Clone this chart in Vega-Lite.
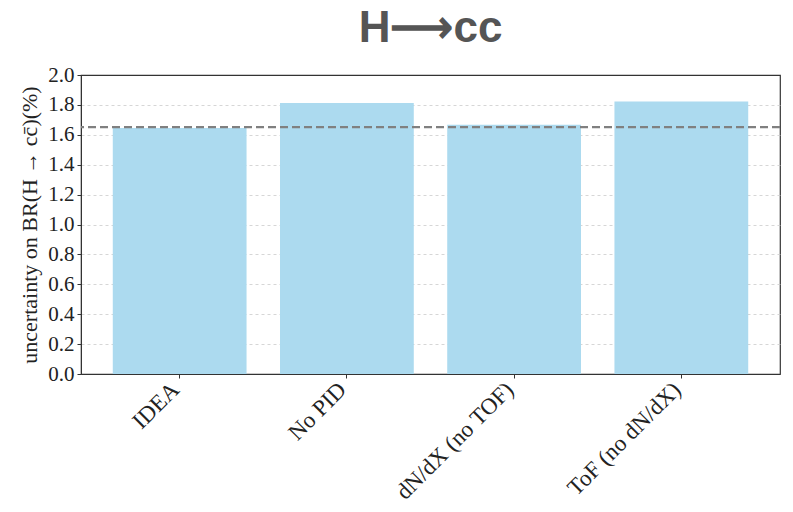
{
  "$schema": "https://vega.github.io/schema/vega-lite/v6.json",
  "width": 699,
  "height": 299,
  "autosize": "none",
  "padding": {"left": 81, "top": 75, "right": 13, "bottom": 138},
  "background": "white",
  "title": {
    "text": "H⟶cc",
    "font": "Liberation Sans",
    "fontSize": 44,
    "fontWeight": "bold",
    "color": "#555555",
    "anchor": "middle",
    "offset": 13
  },
  "config": {
    "view": {"stroke": "#333333", "strokeWidth": 1.2},
    "axis": {
      "labelFont": "Liberation Serif",
      "titleFont": "Liberation Serif",
      "labelFontSize": 21,
      "titleFontSize": 22,
      "labelColor": "#222222",
      "titleColor": "#222222",
      "titleFontWeight": "normal",
      "domainColor": "#333333",
      "tickColor": "#333333",
      "tickSize": 4,
      "labelOverlap": false
    }
  },
  "datasets": {
    "scenarios": [
      {"config": "IDEA", "uncertainty": 1.645},
      {"config": "No PID", "uncertainty": 1.813},
      {"config": "dN/dX (no TOF)", "uncertainty": 1.667},
      {"config": "ToF (no dN/dX)", "uncertainty": 1.823}
    ],
    "baseline": [{"level": 1.652}]
  },
  "layer": [
    {
      "data": {"name": "scenarios"},
      "mark": {"type": "bar", "color": "#acdaef"},
      "encoding": {
        "x": {
          "field": "config",
          "type": "nominal",
          "sort": null,
          "scale": {"paddingInner": 0.2, "paddingOuter": 0.19},
          "axis": {
            "title": null,
            "labelAngle": -45,
            "labelAlign": "right",
            "labelBaseline": "top",
            "labelFontSize": 23,
            "labelPadding": 0,
            "labelOffset": -12,
            "labelLimit": 300
          }
        },
        "y": {
          "field": "uncertainty",
          "type": "quantitative",
          "scale": {"domain": [0, 2], "nice": false},
          "axis": {
            "title": "uncertainty on BR(H → cc̄)(%)",
            "values": [0, 0.2, 0.4, 0.6, 0.8, 1.0, 1.2, 1.4, 1.6, 1.8, 2.0],
            "tickCount": 11,
            "format": ".1f",
            "grid": true,
            "gridDash": [3, 3],
            "gridColor": {"condition": {"test": "datum.value >= 2", "value": "transparent"}, "value": "#cccccc"},
            "gridWidth": 0.8,
            "labelPadding": 3,
            "titlePadding": 6
          }
        }
      }
    },
    {
      "data": {"name": "baseline"},
      "mark": {"type": "rule", "color": "#808080", "strokeWidth": 2.2, "strokeDash": [8, 4]},
      "encoding": {
        "y": {"field": "level", "type": "quantitative"}
      }
    }
  ]
}
